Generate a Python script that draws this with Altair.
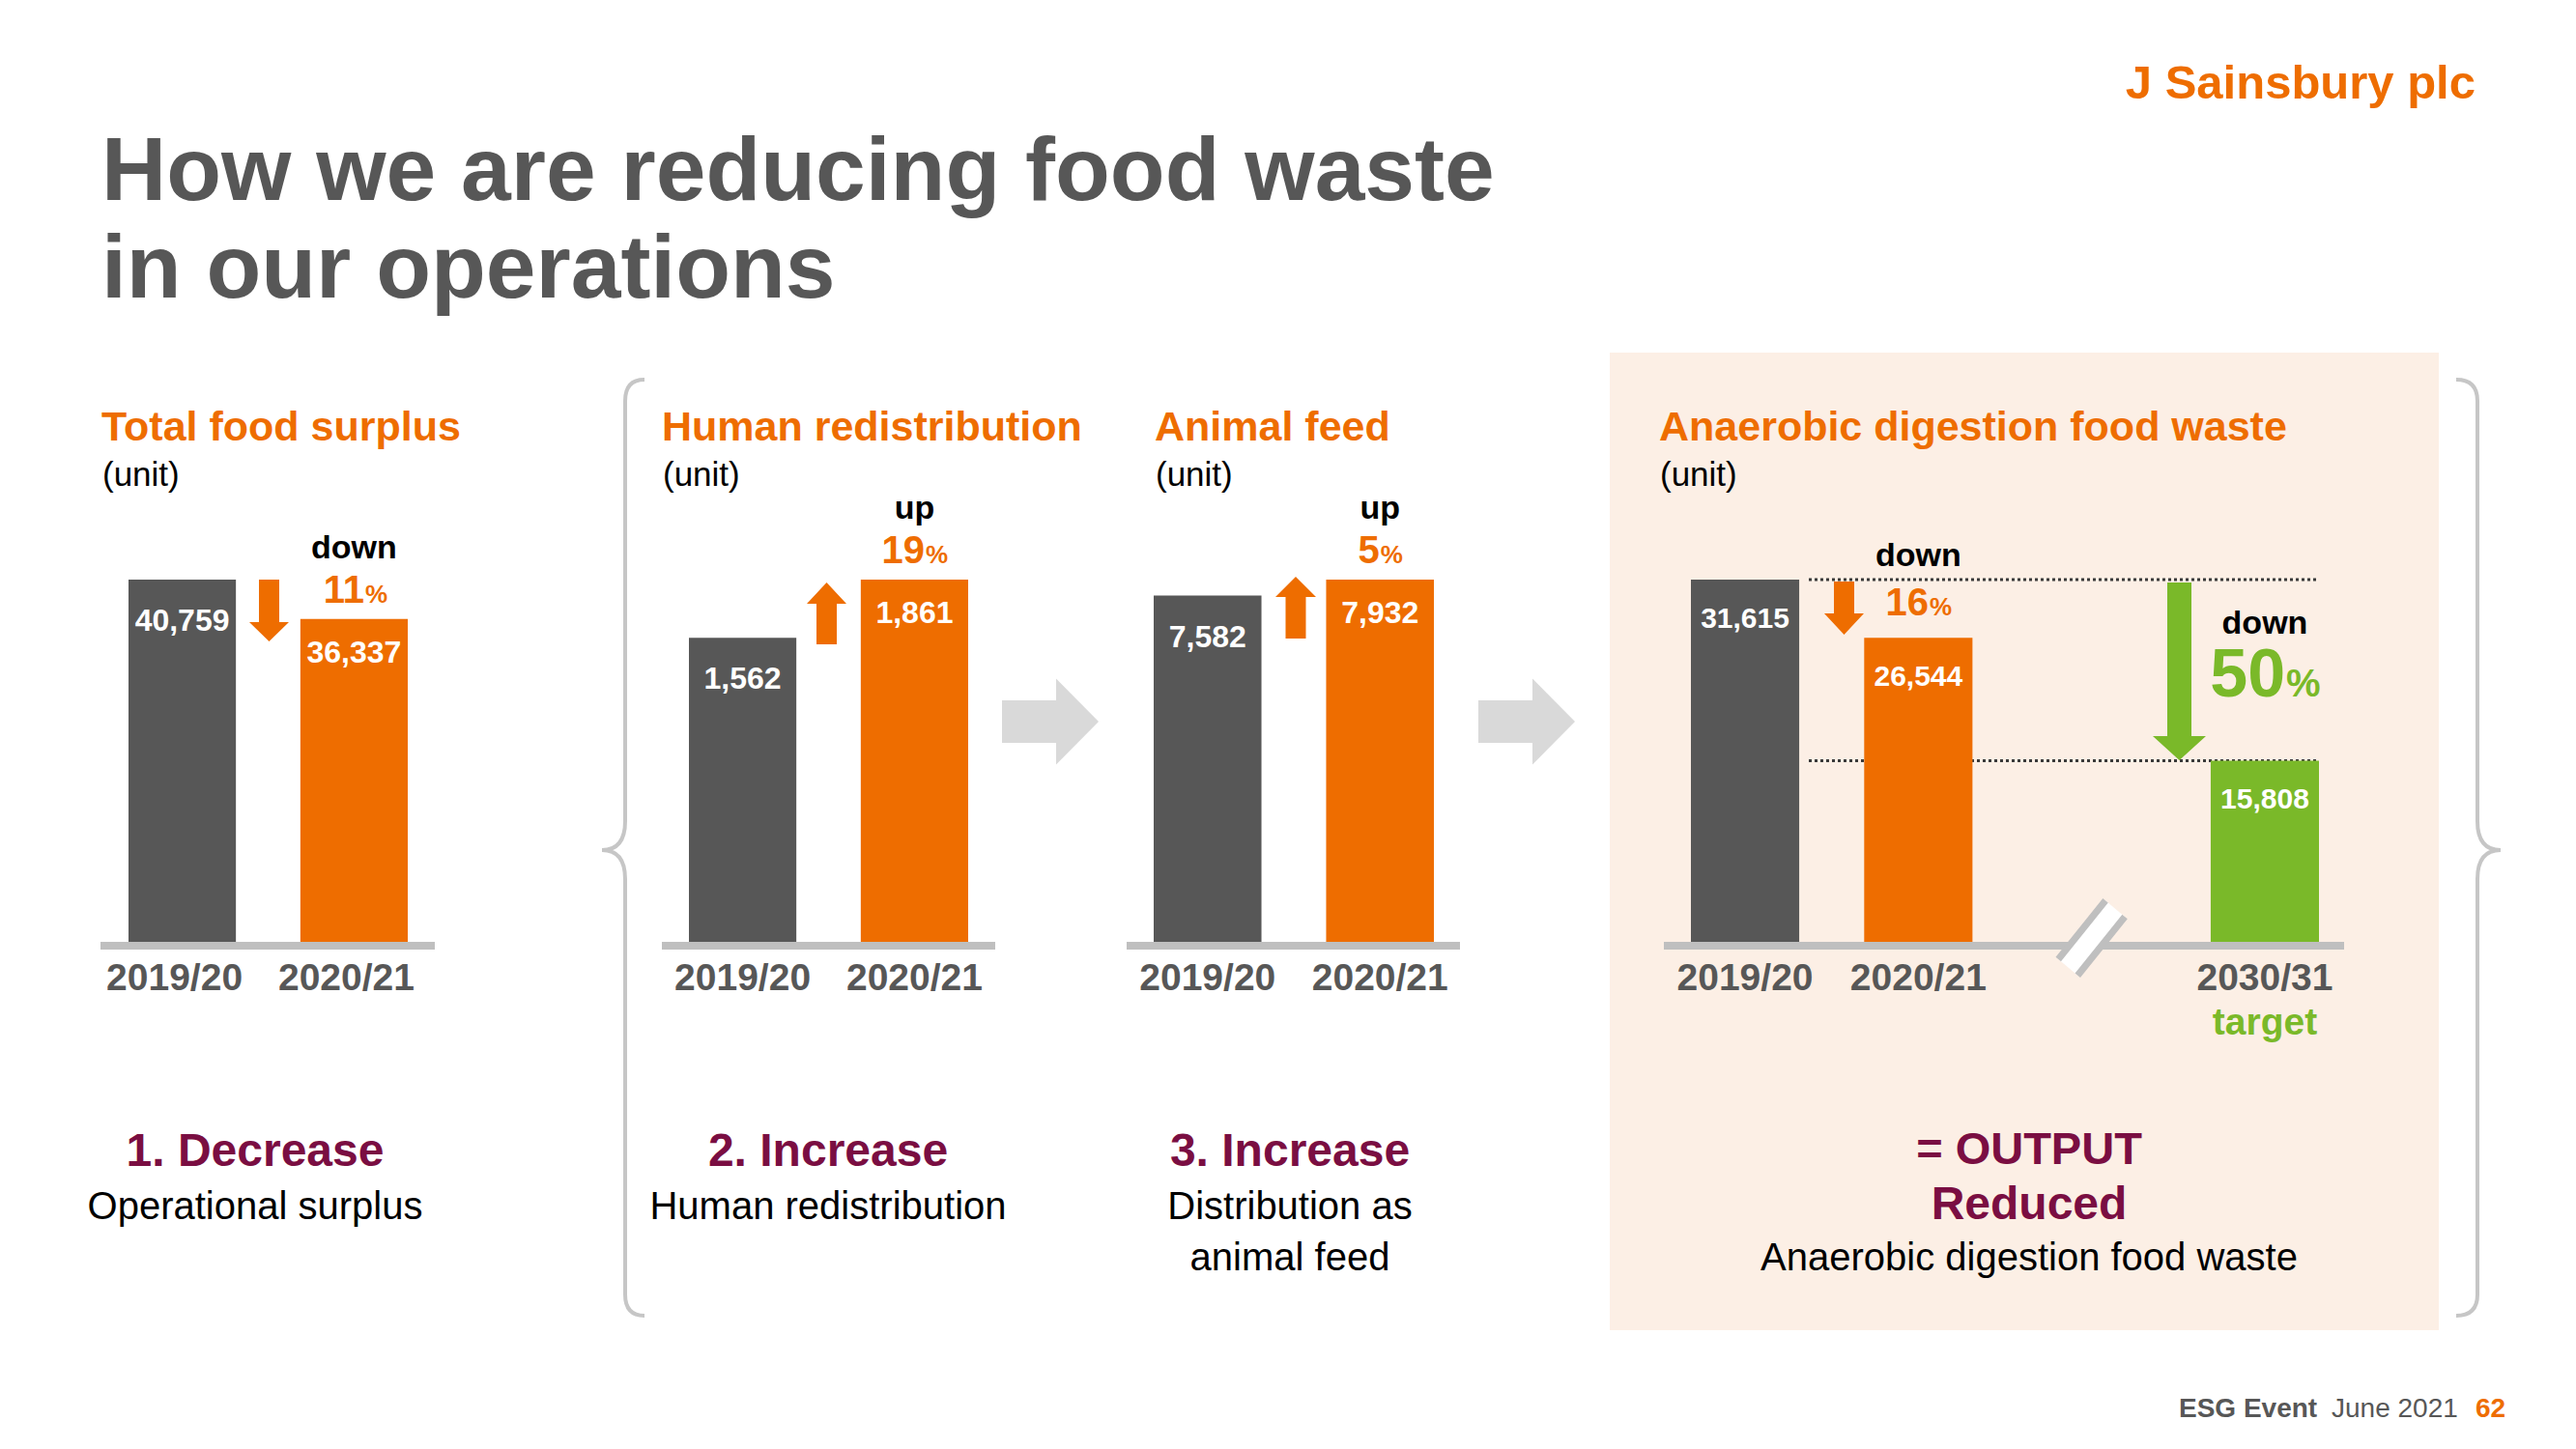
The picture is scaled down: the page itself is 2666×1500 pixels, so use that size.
import altair as alt
import pandas as pd

FONT = "Liberation Sans"
W, H = 2650, 1484
M = 8  # page margin


def px(v):
    return v - M


# ---------------- data ----------------
years = ["2019/20", "2020/21"]
surplus_values = [40759, 36337]
human_values = [1562, 1861]
animal_values = [7582, 7932]
ad_years = ["2019/20", "2020/21", "2030/31"]
ad_values = [31615, 26544, 15808]
ad_domain = ["2019/20", "2020/21", "break", "2030/31"]

change_words = ["down", "up", "up", "down"]
change_pcts = [11, 19, 5, 16]
target_word = "down"
target_pct = 50
target_label = "target"

panel_titles = ["Total food surplus", "Human redistribution", "Animal feed",
                "Anaerobic digestion food waste"]
unit_label = "(unit)"
step_heads = ["1. Decrease", "2. Increase", "3. Increase"]
step_texts = [["Operational surplus"], ["Human redistribution"],
              ["Distribution as", "animal feed"]]
output_lines = ["= OUTPUT", "Reduced", "Anaerobic digestion food waste"]
title_lines = ["How we are reducing food waste", "in our operations"]
logo_text = "J Sainsbury plc"
footer_texts = ["ESG Event", "June 2021", "62"]

# ---------------- styles ----------------
ORANGE = "#EE6D00"
GREY_BAR = "#575757"
GREEN = "#7AB929"
MAROON = "#7A0E42"
TEXT_GREY = "#575757"
LINE_GREY = "#BFBFBF"
BRACE_GREY = "#C6C6C6"
PEACH = "#FCEFE5"
ARROW_GREY = "#D9D9D9"


def one_row(**kw):
    d = {"k": 1}
    d.update(kw)
    return alt.Data(values=[d])


def text_at(s, x, y, size, color, weight="normal", align="left"):
    return alt.Chart(one_row(t=s)).mark_text(
        align=align, baseline="alphabetic", font=FONT, fontSize=size,
        fontWeight=weight, color=color
    ).encode(text="t:N", x=alt.value(px(x)), y=alt.value(px(y)))


def rect_at(x0, x1, y0, y1, color):
    return alt.Chart(one_row()).mark_rect(color=color, opacity=1).encode(
        x=alt.value(px(x0)), x2=alt.value(px(x1)),
        y=alt.value(px(y0)), y2=alt.value(px(y1)))


def shape_at(path, extent, x, y, color, filled=True, stroke_width=0):
    kw = dict(shape=path, size=extent ** 2, filled=filled, color=color, opacity=1)
    if filled:
        kw["strokeWidth"] = 0
    else:
        kw["strokeWidth"] = stroke_width
        kw["strokeCap"] = "butt"
    return alt.Chart(one_row()).mark_point(**kw).encode(
        x=alt.value(px(x)), y=alt.value(px(y)))


def fmt(pts):
    return "M" + " L".join(f"{a:.4f},{b:.4f}" for a, b in pts) + " Z"


def arrow_pts(w, h, sw, hl):
    """downward arrow, normalised so the longest side spans [-1, 1]"""
    u = max(w, h) / 2
    hw, hh, sh = w / 2 / u, h / 2 / u, sw / 2 / u
    b = hh - hl / u
    return [(-sh, -hh), (sh, -hh), (sh, b), (hw, b), (0, hh), (-hw, b), (-sh, b)], 2 * u


def arrow_down(w, h, sw, hl):
    pts, e = arrow_pts(w, h, sw, hl)
    return fmt(pts), e


def arrow_up(w, h, sw, hl):
    pts, e = arrow_pts(w, h, sw, hl)
    return fmt([(a, -b) for a, b in pts]), e


def arrow_right(w, h, sw, hl):
    pts, e = arrow_pts(h, w, sw, hl)
    return fmt([(b, a) for a, b in pts]), e


def brace_path(top, bottom, cusp_y, cusp_dx, end_dx, cx):
    cy = (top + bottom) / 2
    u = (bottom - top) / 2
    r = 22
    rc = 30

    def n(x, y):
        return f"{x / u:.4f},{(y - cy) / u:.4f}"
    d = (f"M{n(end_dx, top)} Q{n(0, top)} {n(0, top + r)} "
         f"L{n(0, cusp_y - rc)} Q{n(0, cusp_y)} {n(cusp_dx, cusp_y)} "
         f"Q{n(0, cusp_y)} {n(0, cusp_y + rc)} "
         f"L{n(0, bottom - r)} Q{n(0, bottom)} {n(end_dx, bottom)}")
    return d, 2 * u, cx, cy


# ---------------- panels ----------------
def panel(cats, values, domain, colors, x0, x1, value_dys, value_size, label_dx=0):
    df = pd.DataFrame({"year": cats, "value": values})
    df["label"] = df["value"].map(lambda v: f"{v:,}")
    df["zero"] = 0
    xs = alt.Scale(type="band", domain=domain, range=[px(x0), px(x1)],
                   paddingInner=0.375, paddingOuter=0)
    ys = alt.Scale(domain=[0, max(values)], range=[px(975), px(600)], nice=False, zero=True)
    X = alt.X("year:N", scale=xs, axis=None)
    Y = alt.Y("value:Q", scale=ys, axis=None)
    Y0 = alt.Y("zero:Q", scale=ys, axis=None)
    base = alt.Chart(df)
    layers = []
    layers.append(base.mark_bar(opacity=1).encode(
        x=X, y=Y,
        color=alt.Color("year:N", scale=alt.Scale(domain=cats, range=colors), legend=None)))
    for c, d in zip(cats, value_dys):
        layers.append(base.transform_filter(alt.datum.year == c).mark_text(
            dy=d, baseline="alphabetic", align="center", font=FONT, fontSize=value_size,
            fontWeight="bold", color="white").encode(x=X, y=Y, text="label:N"))
    layers.append(base.mark_text(
        dy=50, dx=label_dx, baseline="alphabetic", align="center", font=FONT, fontSize=39,
        fontWeight="bold", color=TEXT_GREY).encode(x=X, y=Y0, text="year:N"))
    return base, xs, X, Y, Y0, layers


def change_note(base, X, Y, cat, word, pct, color, word_dy, pct_dy, num_size, pct_size,
                word_size=34):
    sel = base.transform_filter(alt.datum.year == cat)
    num = str(pct)
    num_w = 0.556 * num_size * len(num)
    pct_w = 0.889 * pct_size
    split = -(num_w + pct_w) / 2 + num_w
    common = dict(baseline="alphabetic", font=FONT, fontWeight="bold")
    w = sel.mark_text(text=word, dy=word_dy, align="center", fontSize=word_size,
                      color="black", **common).encode(x=X, y=Y)
    n = sel.mark_text(text=num, dy=pct_dy, dx=split, align="right", fontSize=num_size,
                      color=color, **common).encode(x=X, y=Y)
    p = sel.mark_text(text="%", dy=pct_dy, dx=split + 1, align="left", fontSize=pct_size,
                      color=color, **common).encode(x=X, y=Y)
    return [w, n, p]


# panel 1
b1, xs1, X1, Y1, Z1, l1 = panel(years, surplus_values, years, [GREY_BAR, ORANGE], 133, 422,
                                [53, 45], 32, label_dx=-8)
l1 += change_note(b1, X1, Y1, years[1], change_words[0], change_pcts[0], ORANGE, -63, -17, 40, 26)
# panel 2
b2, xs2, X2, Y2, Z2, l2 = panel(years, human_values, years, [GREY_BAR, ORANGE], 713, 1002,
                                [53, 45], 32)
l2 += change_note(b2, X2, Y2, years[1], change_words[1], change_pcts[1], ORANGE, -63, -17, 40, 26)
# panel 3
b3, xs3, X3, Y3, Z3, l3 = panel(years, animal_values, years, [GREY_BAR, ORANGE], 1194, 1484,
                                [53, 45], 32)
l3 += change_note(b3, X3, Y3, years[1], change_words[2], change_pcts[2], ORANGE, -63, -17, 40, 26)
# panel 4
b4, xs4, X4, Y4, Z4, l4 = panel(ad_years, ad_values, ad_domain, [GREY_BAR, ORANGE, GREEN],
                                1750, 2400, [50, 50, 50], 30)
dotted = b4.transform_filter(
    alt.FieldOneOfPredicate(field="year", oneOf=[ad_years[0], ad_years[2]])
).mark_rule(strokeDash=[3, 3], strokeWidth=3, color="#3A3A3A").encode(
    x=alt.value(px(1872)), x2=alt.value(px(2400)), y=Y4)
l4 = [dotted] + l4
l4 += change_note(b4, X4, Y4, ad_years[1], change_words[3], change_pcts[3], ORANGE, -74, -23, 40, 26)
l4 += change_note(b4, X4, Y4, ad_years[2], target_word, target_pct, GREEN, -131, -66, 70, 40)
l4.append(
    b4.transform_filter(alt.datum.year == ad_years[2]).mark_text(
        text=target_label, dy=96, baseline="alphabetic", align="center", font=FONT,
        fontSize=39, fontWeight="bold", color=GREEN).encode(x=X4, y=Z4))
# axis break marks on the panel-4 baseline (placed on the empty "break" slot)
brk = alt.Chart(pd.DataFrame({"year": ["break"], "zero": [0]}))
brk_fill = "M-0.86,0.55 L0.36,-0.97 L0.86,-0.55 L-0.36,0.97 Z"
brk_lines = "M-0.86,0.55 L0.36,-0.97 M-0.36,0.97 L0.86,-0.55"
l4.append(brk.mark_point(
    shape=brk_fill, size=80 ** 2, filled=True, color="white", strokeWidth=0, opacity=1,
    yOffset=-4).encode(x=X4, y=Z4))
l4.append(brk.mark_point(
    shape=brk_lines, size=80 ** 2, filled=False, color=LINE_GREY, strokeWidth=7, opacity=1,
    yOffset=-4).encode(x=X4, y=Z4))

# ---------------- decorations ----------------
deco = []
deco.append(rect_at(1666, 2524, 365, 1377, PEACH))
bp, be, bcx, bcy = brace_path(393, 1362, 880, -24, 20, 647)
deco.append(shape_at(bp, be, bcx, bcy, BRACE_GREY, filled=False, stroke_width=4))
bp, be, bcx, bcy = brace_path(393, 1362, 880, 24, -22, 2564)
deco.append(shape_at(bp, be, bcx, bcy, BRACE_GREY, filled=False, stroke_width=4))
ra, re_ = arrow_right(100, 89, 44, 44)
deco.append(shape_at(ra, re_, 1087, 747, ARROW_GREY))
deco.append(shape_at(ra, re_, 1580, 747, ARROW_GREY))
for x0, x1 in [(104, 450), (685, 1030), (1166, 1511), (1722, 2426)]:
    deco.append(rect_at(x0, x1, 975, 983, LINE_GREY))

arrows = []
p, e = arrow_down(41, 64, 21, 20)
arrows.append(shape_at(p, e, 278.5, 632, ORANGE))
p, e = arrow_up(41, 64, 21, 22)
arrows.append(shape_at(p, e, 855.5, 635, ORANGE))
p, e = arrow_up(42, 64, 21, 21)
arrows.append(shape_at(p, e, 1341, 629, ORANGE))
p, e = arrow_down(41, 55, 21, 22)
arrows.append(shape_at(p, e, 1908.5, 629.5, ORANGE))
p, e = arrow_down(55, 184, 25, 25)
arrows.append(shape_at(p, e, 2255.5, 695, GREEN))

# ---------------- texts ----------------
texts = []
texts.append(text_at(title_lines[0], 105, 207, 93, TEXT_GREY, "bold"))
texts.append(text_at(title_lines[1], 105, 308, 93, TEXT_GREY, "bold"))
texts.append(text_at(logo_text, 2562, 102, 49, ORANGE, "bold", "right"))
for t, x in zip(panel_titles, [105, 685, 1195, 1717]):
    texts.append(text_at(t, x, 456, 43, ORANGE, "bold"))
    texts.append(text_at(unit_label, x + 1, 503, 35, "black"))
for head, lines, cx in zip(step_heads, step_texts, [264, 857, 1335]):
    texts.append(text_at(head, cx, 1207, 48, MAROON, "bold", "center"))
    for i, ln in enumerate(lines):
        texts.append(text_at(ln, cx, 1262 + 53 * i, 40, "black", "normal", "center"))
texts.append(text_at(output_lines[0], 2100, 1205, 47, MAROON, "bold", "center"))
texts.append(text_at(output_lines[1], 2100, 1262, 48, MAROON, "bold", "center"))
texts.append(text_at(output_lines[2], 2100, 1315, 40, "black", "normal", "center"))
texts.append(text_at(footer_texts[0], 2255, 1467, 28, TEXT_GREY, "bold"))
texts.append(text_at(footer_texts[1], 2413, 1467, 28, TEXT_GREY, "normal"))
texts.append(text_at(footer_texts[2], 2562, 1467, 28, ORANGE, "bold"))

chart = alt.layer(
    *deco, *l1, *l2, *l3, *l4, *arrows, *texts,
).resolve_scale(
    x="independent", y="independent", color="independent"
).properties(
    width=W, height=H, autosize=alt.AutoSizeParams(type="none"), padding=0,
    background="white"
).configure_view(stroke=None)

chart.save("out.html", embed_options={"renderer": "svg", "actions": False})
